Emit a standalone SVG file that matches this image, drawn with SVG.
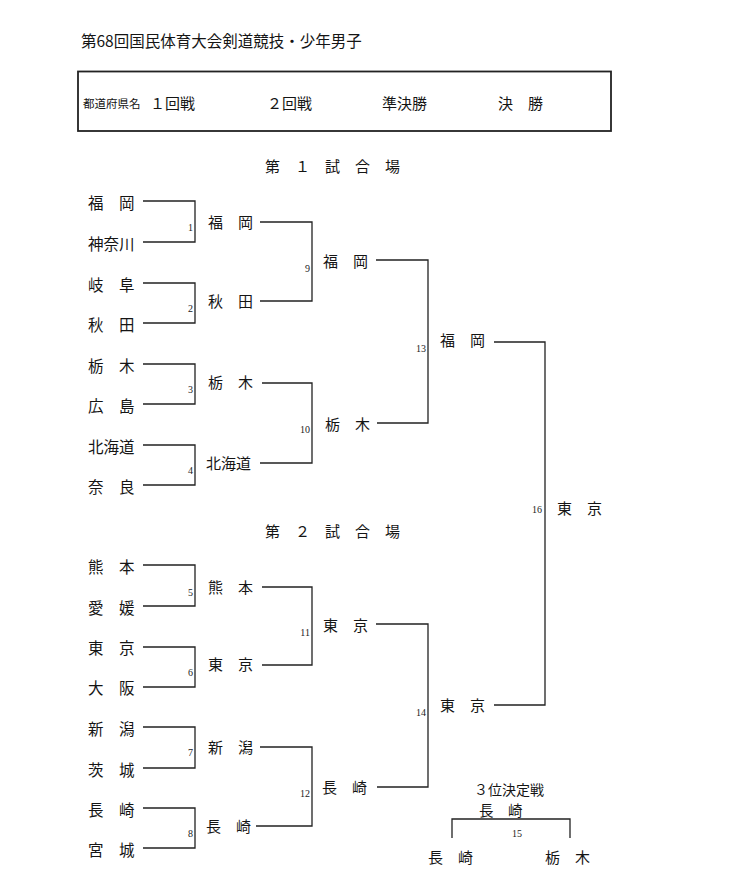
<svg xmlns="http://www.w3.org/2000/svg" width="754" height="894" viewBox="0 0 754 894">
<style>
.t{font-family:"Noto Sans CJK JP","Noto Sans CJK SC",sans-serif;fill:#151515;font-size:15px}
.n1{font-size:15.5px}
.s{font-size:11.5px}
.num{font-family:"Liberation Serif",serif;font-size:10px;fill:#222;text-anchor:end}
.c{fill:none;stroke:#222;stroke-width:1.3}
.box{fill:none;stroke:#222;stroke-width:1.8}
</style>
<rect width="754" height="894" fill="#fff"/>
<g id="title"><text class="t" x="81" y="47" style="font-size:15.5px">第68回国民体育大会剣道競技・少年男子</text></g>
<g id="header">
<rect class="box" x="78" y="71.5" width="533" height="59.5"/>
<text class="t s" x="83" y="107.5">都道府県名</text>
<text class="t" x="150" y="109">１回戦</text>
<text class="t" x="267" y="109">２回戦</text>
<text class="t" x="382" y="109">準決勝</text>
<text class="t" x="498" y="109">決　勝</text>
</g>
<g id="court1"><text class="t" x="265" y="171.5">第　１　試　合　場</text></g>
<g id="court2"><text class="t" x="265" y="536.5">第　２　試　合　場</text></g>
<g id="connectors">
<path class="c" d="M143 201H195V242H143"/>
<path class="c" d="M143 283H195V323H143"/>
<path class="c" d="M143 364H195V404H143"/>
<path class="c" d="M143 445H195V485H143"/>
<path class="c" d="M143 565H195V606H143"/>
<path class="c" d="M143 647H195V687H143"/>
<path class="c" d="M143 727H195V768H143"/>
<path class="c" d="M143 808H195V848H143"/>
<path class="c" d="M260 222H312V301H260"/>
<path class="c" d="M262 383H312V463H260"/>
<path class="c" d="M262 587H312V665H262"/>
<path class="c" d="M260 747H312V826H256"/>
<path class="c" d="M376 260H428V423H377"/>
<path class="c" d="M376 624H428V787H377"/>
<path class="c" d="M494 342H545V705H494"/>
<path class="c" d="M452 838V819H570V838"/>
<text class="num" x="193" y="230.5">1</text>
<text class="num" x="193" y="311.5">2</text>
<text class="num" x="193" y="392.5">3</text>
<text class="num" x="193" y="473.5">4</text>
<text class="num" x="193" y="595.5">5</text>
<text class="num" x="193" y="675.5">6</text>
<text class="num" x="193" y="755.5">7</text>
<text class="num" x="193" y="836.5">8</text>
<text class="num" x="310" y="271.5">9</text>
<text class="num" x="310" y="432.5">10</text>
<text class="num" x="310" y="635.5">11</text>
<text class="num" x="310" y="796.5">12</text>
<text class="num" x="426" y="351.5">13</text>
<text class="num" x="426" y="715.5">14</text>
<text class="num" x="542" y="512.5">16</text>
<text class="num" x="517" y="836.5" style="text-anchor:middle">15</text>
</g>
<g id="r1-fukuoka"><text class="t n1" x="88" y="209">福　岡</text></g>
<g id="r1-kanagawa"><text class="t n1" x="88" y="250">神奈川</text></g>
<g id="r1-gifu"><text class="t n1" x="88" y="291">岐　阜</text></g>
<g id="r1-akita"><text class="t n1" x="88" y="331">秋　田</text></g>
<g id="r1-tochigi"><text class="t n1" x="88" y="372">栃　木</text></g>
<g id="r1-hiroshima"><text class="t n1" x="88" y="412">広　島</text></g>
<g id="r1-hokkaido"><text class="t n1" x="88" y="453">北海道</text></g>
<g id="r1-nara"><text class="t n1" x="88" y="493">奈　良</text></g>
<g id="r1-kumamoto"><text class="t n1" x="88" y="573">熊　本</text></g>
<g id="r1-ehime"><text class="t n1" x="88" y="614">愛　媛</text></g>
<g id="r1-tokyo"><text class="t n1" x="88" y="654">東　京</text></g>
<g id="r1-osaka"><text class="t n1" x="88" y="694">大　阪</text></g>
<g id="r1-niigata"><text class="t n1" x="88" y="735">新　潟</text></g>
<g id="r1-ibaraki"><text class="t n1" x="88" y="776">茨　城</text></g>
<g id="r1-nagasaki"><text class="t n1" x="88" y="816">長　崎</text></g>
<g id="r1-miyagi"><text class="t n1" x="88" y="856">宮　城</text></g>
<g id="r2-fukuoka"><text class="t" x="208" y="228">福　岡</text></g>
<g id="r2-akita"><text class="t" x="208" y="307">秋　田</text></g>
<g id="r2-tochigi"><text class="t" x="208" y="388">栃　木</text></g>
<g id="r2-hokkaido"><text class="t" x="206" y="469">北海道</text></g>
<g id="r2-kumamoto"><text class="t" x="208" y="593">熊　本</text></g>
<g id="r2-tokyo"><text class="t" x="208" y="670">東　京</text></g>
<g id="r2-niigata"><text class="t" x="208" y="753">新　潟</text></g>
<g id="r2-nagasaki"><text class="t" x="206" y="832">長　崎</text></g>
<g id="r3-fukuoka"><text class="t" x="323" y="267">福　岡</text></g>
<g id="r3-tochigi"><text class="t" x="325" y="430">栃　木</text></g>
<g id="r3-tokyo"><text class="t" x="323" y="631">東　京</text></g>
<g id="r3-nagasaki"><text class="t" x="322" y="793">長　崎</text></g>
<g id="sf-fukuoka"><text class="t" x="440" y="346">福　岡</text></g>
<g id="sf-tokyo"><text class="t" x="440" y="710.5">東　京</text></g>
<g id="champion"><text class="t" x="557" y="513.5">東　京</text></g>
<g id="third-place">
<text class="t" x="474" y="794.5" style="font-size:14px">３位決定戦</text>
<text class="t" x="479" y="816" style="font-size:14.5px">長　崎</text>
</g>
<g id="third-nagasaki"><text class="t" x="428" y="862.5">長　崎</text></g>
<g id="third-tochigi"><text class="t" x="545" y="862.5">栃　木</text></g>
</svg>
